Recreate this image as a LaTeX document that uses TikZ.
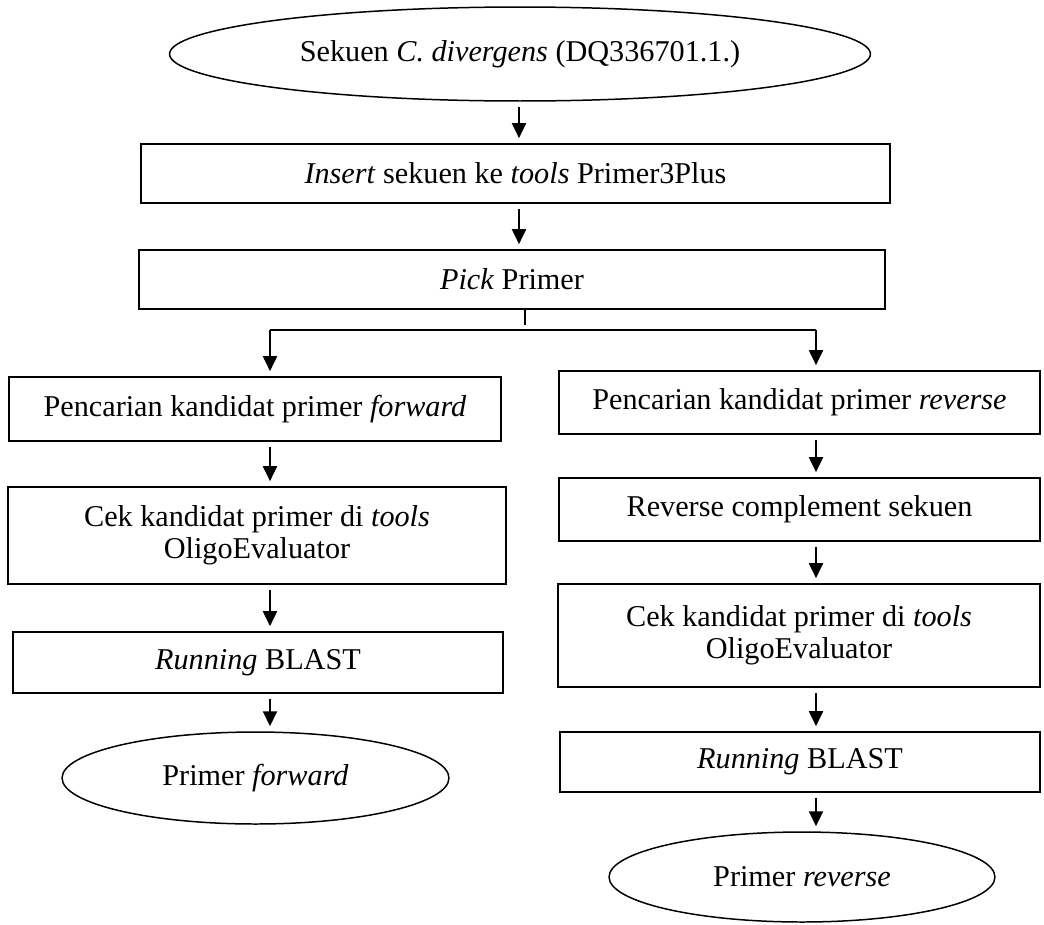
\documentclass[tikz,border=0pt]{standalone}
\usepackage{fontspec}
\setmainfont{Liberation Serif}
\usepackage{tikz}
\usetikzlibrary{shapes.geometric,arrows.meta,calc}

\begin{document}
\begin{tikzpicture}[x=0.02cm, y=-0.02cm,
  stepbox/.style={draw, line width=0.95pt, rectangle, inner sep=0pt, align=center,
    font=\fontsize{17.2}{18.2}\selectfont},
  endpoint/.style={draw, line width=0.85pt, ellipse, inner sep=0pt, align=center,
    font=\fontsize{17.2}{18.2}\selectfont},
  flow/.style={line width=1.1pt, -{Triangle[length=0.3cm, width=0.28cm]},
    shorten <=0.1cm, shorten >=0.1cm},
  link/.style={line width=1.1pt}]
  \useasboundingbox (0, 0) rectangle (1044, 924);

  % Start and common steps
  \node[endpoint, minimum width=14.02cm, minimum height=1.88cm] (src) at (520, 54)
    {Sekuen \textit{C. divergens} (DQ336701.1.)};
  \node[stepbox, minimum width=14.98cm, minimum height=1.18cm] (insert) at (515.5, 173.5)
    {\textit{Insert} sekuen ke \textit{tools} Primer3Plus};
  \node[stepbox, minimum width=14.92cm, minimum height=1.18cm] (pick) at (512, 279.5)
    {\textit{Pick} Primer};

  % Forward branch
  \node[stepbox, minimum width=9.84cm, minimum height=1.28cm] (fwd) at (255, 409)
    {Pencarian kandidat primer \textit{forward}};
  \node[stepbox, minimum width=9.96cm, minimum height=1.94cm] (cekL) at (257, 535.5)
    {Cek kandidat primer di \textit{tools}\\ OligoEvaluator};
  \node[stepbox, minimum width=9.8cm, minimum height=1.22cm] (blastL) at (258, 662.5)
    {\textit{Running} BLAST};
  \node[endpoint, minimum width=7.74cm, minimum height=1.84cm] (primF) at (255.5, 778)
    {Primer \textit{forward}};

  % Reverse branch
  \node[stepbox, minimum width=9.62cm, minimum height=1.26cm] (rev) at (799.5, 402.5)
    {Pencarian kandidat primer \textit{reverse}};
  \node[stepbox, minimum width=9.62cm, minimum height=1.26cm] (rc) at (799.5, 509.5)
    {Reverse complement sekuen};
  \node[stepbox, minimum width=9.64cm, minimum height=2.06cm] (cekR) at (799, 635.5)
    {Cek kandidat primer di \textit{tools}\\ OligoEvaluator};
  \node[stepbox, minimum width=9.6cm, minimum height=1.2cm] (blastR) at (800, 762)
    {\textit{Running} BLAST};
  \node[endpoint, minimum width=7.72cm, minimum height=1.8cm] (primR) at (802, 877)
    {Primer \textit{reverse}};

  % Columns and split
  \coordinate (colM) at (519, 0);
  \coordinate (colL) at (270, 0);
  \coordinate (colR) at (816, 0);
  \coordinate (tickTop) at (525, 310);
  \coordinate (tickBot) at (525, 325);
  \coordinate (splitL) at (colL |- 0, 330);
  \coordinate (splitR) at (colR |- 0, 330);

  \draw[flow] (src.south -| colM) -- (insert.north -| colM);
  \draw[flow] (insert.south -| colM) -- (pick.north -| colM);
  \draw[line width=0.7pt] (tickTop) -- (tickBot);
  \draw[link] (splitL) -- (splitR);
  \draw[flow, shorten <=0pt] (splitL) -- (fwd.north -| colL);
  \draw[flow, shorten <=0pt] (splitR) -- (rev.north -| colR);

  % Forward arrows
  \draw[flow] (fwd.south -| colL) -- (cekL.north -| colL);
  \draw[flow] (cekL.south -| colL) -- (blastL.north -| colL);
  \draw[flow] (blastL.south -| colL) -- (primF.north -| colL);

  % Reverse arrows
  \draw[flow] (rev.south -| colR) -- (rc.north -| colR);
  \draw[flow] (rc.south -| colR) -- (cekR.north -| colR);
  \draw[flow] (cekR.south -| colR) -- (blastR.north -| colR);
  \draw[flow] (blastR.south -| colR) -- (primR.north -| colR);
\end{tikzpicture}
\end{document}
